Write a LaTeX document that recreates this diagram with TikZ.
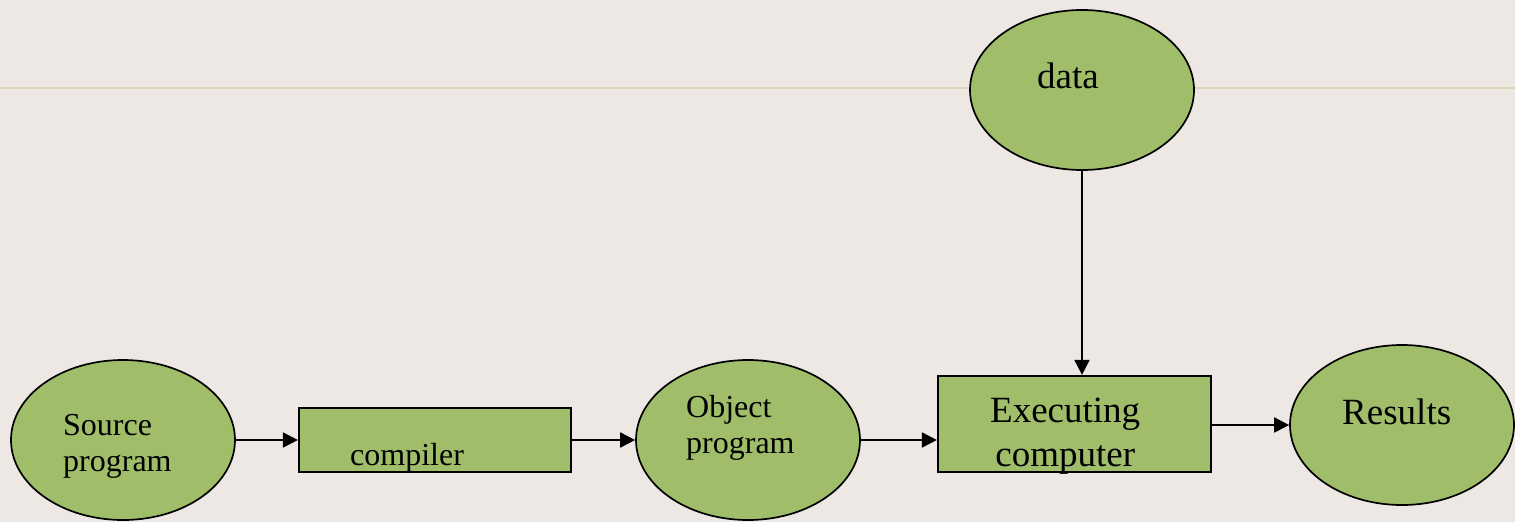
\documentclass[tikz,border=0pt]{standalone}
\usepackage{fontspec}
\setmainfont{Liberation Serif}
\usetikzlibrary{shapes.geometric,arrows.meta}
\definecolor{bg}{HTML}{EDE8E4}
\definecolor{rule}{HTML}{DDD4BE}
\definecolor{leaf}{HTML}{A0BE6A}
\tikzset{
  oval/.style={ellipse,draw=black,line width=1.7pt,fill=leaf,minimum width=224pt,minimum height=160pt,inner sep=0pt},
  panel/.style={rectangle,draw=black,line width=2.2pt,fill=leaf,inner sep=0pt},
  small/.style={font=\fontsize{32}{36}\selectfont,align=left,inner sep=0pt},
  big/.style={font=\fontsize{37}{44}\selectfont,align=left,inner sep=0pt},
  conn/.style={line width=1.8pt,-{Triangle[length=15pt,width=15pt]}},
}
\begin{document}
\begin{tikzpicture}[x=1pt,y=-1pt]
\fill[bg] (0,0) rectangle (1515,522);
\useasboundingbox (0,0) rectangle (1515,522);
\draw[rule,line width=2pt] (0,88) -- (1515,88);
% shapes
\node[oval] (src) at (123,440) {};
\node[panel,minimum width=272pt,minimum height=64pt] (comp) at (435,440) {};
\node[oval] (obj) at (748,440) {};
\node[panel,minimum width=273pt,minimum height=96pt] (exec) at (1074.5,424) {};
\node[oval] (res) at (1402,425) {};
\node[oval] (dat) at (1082,90) {};
% texts
\node[small,anchor=west] (srct) at (63,446) {Source\\program};
\node[small,anchor=west] (compt) at (350,458) {compiler};
\node[small,anchor=west] (objt) at (686,428) {Object\\program};
\node[big,anchor=west,align=center] (exect) at (990,436) {Executing\\computer};
\node[big,anchor=west] (rest) at (1342,412) {Results};
\node[big,anchor=west] (datt) at (1037,76) {data};
% connectors
\draw[conn] (src.east) -- (comp.west);
\draw[conn] (comp.east) -- (obj.west);
\draw[conn] (obj.east) -- (exec.west |- obj.east);
\draw[conn] (exec.east |- res.west) -- (res.west);
\draw[conn] (dat.south) -- (dat.south |- exec.north);
\end{tikzpicture}
\end{document}
